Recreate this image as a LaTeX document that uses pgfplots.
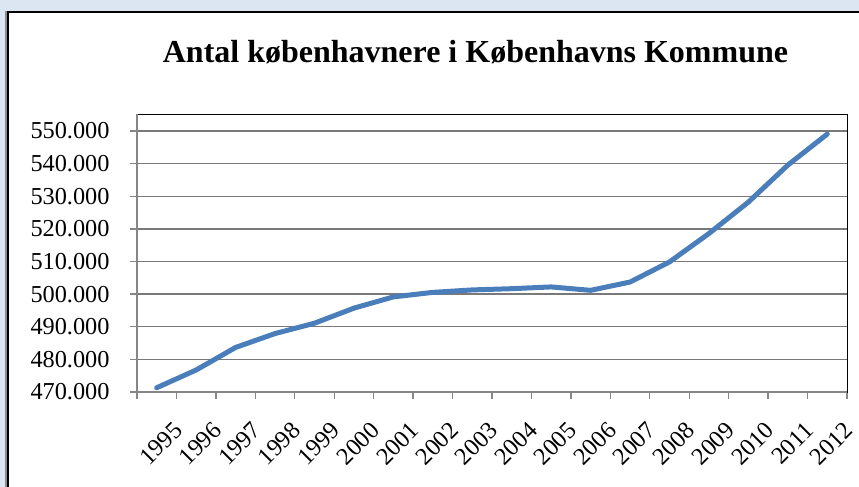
\documentclass[border=0pt]{standalone}
\usepackage{fontspec}
\setmainfont{Liberation Serif}
\usepackage{pgfplots}
\pgfplotsset{compat=1.18}
\definecolor{bgblue}{RGB}{220,230,242}
\definecolor{linblue}{RGB}{74,126,187}
\definecolor{gridgray}{RGB}{134,134,134}
\begin{document}
\begin{tikzpicture}
\useasboundingbox (0bp,0bp) rectangle (859bp,487bp);
\fill[bgblue] (0bp,0bp) rectangle (859bp,487bp);
\fill[white] (8bp,-20bp) rectangle (900bp,475bp);
\draw[black!45, line width=1.5bp] (6bp,-20bp) -- (6bp,476bp);
\draw[black, line width=2bp] (8bp,-20bp) -- (8bp,475bp) -- (900bp,475bp);
\node[anchor=base, font=\fontsize{32bp}{36bp}\selectfont\bfseries] at (475.5bp,424bp) {Antal københavnere i Københavns Kommune};
\begin{axis}[at={(137bp,95bp)}, anchor=south west, width=710bp, height=278bp, scale only axis,
  xmin=-0.5, xmax=17.5, ymin=470000, ymax=555200,
  xtick={0,...,17},
  xticklabels={1995,1996,1997,1998,1999,2000,2001,2002,2003,2004,2005,2006,2007,2008,2009,2010,2011,2012},
  major x tick style={draw=none},
  minor xtick={-0.5,0.5,...,17.5},
  ytick={470000,480000,...,550000},
  tick pos=left, tick align=outside,
  major tick length=7bp, minor tick length=7bp,
  every tick/.style={gridgray, line width=1.3bp},
  ymajorgrids, grid style={gridgray!90!black, line width=1.4bp},
  axis line style={black, line width=0.8bp},
  scaled y ticks=false,
  /pgf/number format/assume math mode=true,
  yticklabel style={/pgf/number format/fixed, /pgf/number format/1000 sep={.}, xshift=-17bp},
  tick label style={font=\fontsize{24.3bp}{28bp}\selectfont},
  xticklabel style={rotate=45, anchor=north east, inner sep=1bp, yshift=-25bp, xshift=-3bp},
  clip=false,
]
\addplot[linblue, line width=5bp, line join=round, line cap=round] coordinates {
(0,471300) (1,476751) (2,483658) (3,487908) (4,491082) (5,495699) (6,499148) (7,500531) (8,501285)
(9,501664) (10,502204) (11,501158) (12,503699) (13,509861) (14,518574) (15,528208) (16,539542) (17,549050)};
\draw[gridgray, line width=1.6bp] (rel axis cs:0,0) -- (rel axis cs:0,1);
\draw[gridgray, line width=1.6bp] (rel axis cs:0,0) -- (rel axis cs:1,0);
\end{axis}
\end{tikzpicture}
\end{document}
